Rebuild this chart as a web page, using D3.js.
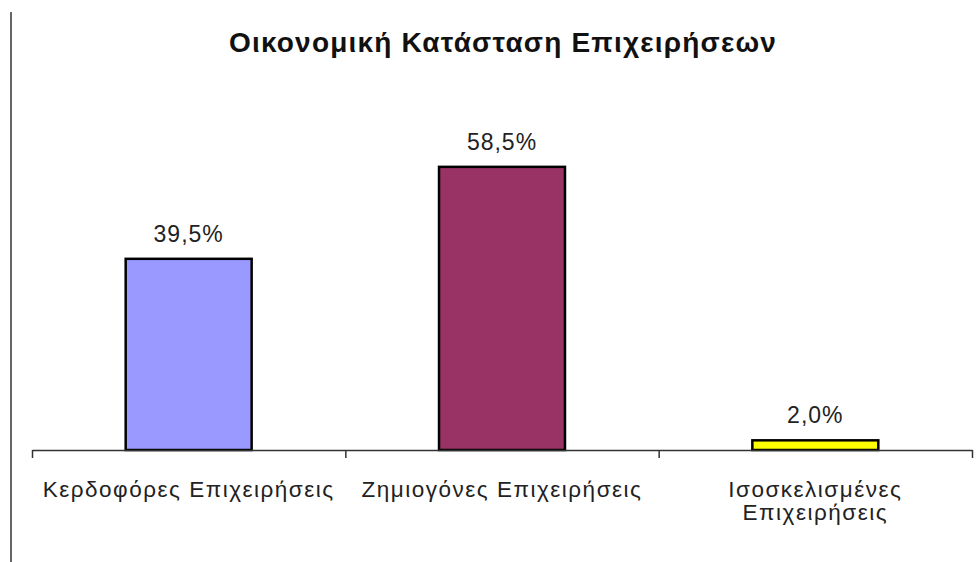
<!DOCTYPE html>
<html><head><meta charset="utf-8">
<script src="https://cdn.jsdelivr.net/npm/d3@7"></script>
<style>body{margin:0;background:#fff}svg{display:block}</style>
</head><body><svg id="c" width="979" height="562"></svg>
<script>
const title = "Οικονομική Κατάσταση Επιχειρήσεων";
const categories = ["Κερδοφόρες Επιχειρήσεις", "Ζημιογόνες Επιχειρήσεις", "Ισοσκελισμένες Επιχειρήσεις"];
const categoryLines = [["Κερδοφόρες Επιχειρήσεις"], ["Ζημιογόνες Επιχειρήσεις"], ["Ισοσκελισμένες", "Επιχειρήσεις"]];
const values = [39.5, 58.5, 2.0];
const valueLabels = ["39,5%", "58,5%", "2,0%"];
const colors = ["#9999FF", "#993366", "#FFFF00"];

const svg = d3.select("#c");
const font = "Liberation Sans, Arial, sans-serif";
const x0 = 32, x1 = 972, baseY = 450;
const x = d3.scaleBand().domain(categories).range([x0, x1]).padding(0);
const y = d3.scaleLinear().domain([0, 70]).range([baseY, baseY - 70 * 4.84]);
const barW = x.bandwidth() * 0.402;

// left border line
svg.append("line").attr("x1", 11).attr("x2", 11).attr("y1", 12).attr("y2", 562)
  .attr("stroke", "#666").attr("stroke-width", 2);

svg.append("text").attr("x", 503).attr("y", 52).attr("text-anchor", "middle")
  .attr("font-family", font).attr("font-weight", "bold").attr("font-size", 28)
  .attr("letter-spacing", 1.2).attr("fill", "#111").text(title);

// bars
svg.selectAll("rect.bar").data(values).enter().append("rect").attr("class", "bar")
  .attr("x", (d, i) => x(categories[i]) + x.bandwidth() / 2 - barW / 2)
  .attr("width", barW)
  .attr("y", d => y(d)).attr("height", d => baseY - y(d))
  .attr("fill", (d, i) => colors[i]).attr("stroke", "#000").attr("stroke-width", 2.5);

// value labels
svg.selectAll("text.val").data(values).enter().append("text").attr("class", "val")
  .attr("x", (d, i) => x(categories[i]) + x.bandwidth() / 2)
  .attr("y", d => y(d) - 17).attr("text-anchor", "middle")
  .attr("font-family", font).attr("font-size", 23).attr("letter-spacing", 1)
  .attr("fill", "#222").text((d, i) => valueLabels[i]);

// axis with ticks at category boundaries
const bScale = d3.scaleLinear().domain([0, 3]).range([x0, x1]);
const ax = svg.append("g").attr("transform", `translate(0,${baseY})`)
  .call(d3.axisBottom(bScale).tickValues([0, 1, 2, 3]).tickSize(8).tickSizeOuter(0).tickFormat(""));
ax.select(".domain").attr("stroke", "#333").attr("stroke-width", 1.5);
ax.selectAll(".tick line").attr("stroke", "#333").attr("stroke-width", 1.5);

// category labels
categoryLines.forEach((lines, i) => {
  const cx = x(categories[i]) + x.bandwidth() / 2;
  const t = svg.append("text").attr("x", cx).attr("y", 497)
    .attr("text-anchor", "middle").attr("font-family", font).attr("font-size", 22.5)
    .attr("letter-spacing", 1.5).attr("fill", "#222");
  lines.forEach((l, j) => t.append("tspan").attr("x", cx)
    .attr("dy", j === 0 ? 0 : 23).text(l));
});
</script></body></html>
